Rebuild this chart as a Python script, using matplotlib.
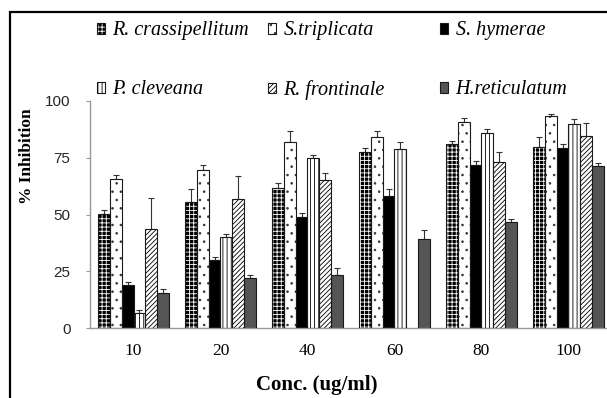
import numpy as np
import matplotlib
matplotlib.use('Agg')
import matplotlib.pyplot as plt
from matplotlib.patches import Rectangle
from matplotlib.font_manager import FontProperties

# concentrations (ug/ml) and % inhibition
conc = ['10', '20', '40', '60', '80', '100']

r_crass = [50.2, 55.4, 61.8, 77.5, 80.9, 79.7]
r_crass_err = [1.7, 6.0, 2.1, 1.7, 1.6, 4.3]
s_trip = [65.6, 69.5, 81.8, 84.0, 90.9, 93.4]
s_trip_err = [1.6, 2.2, 5.1, 2.9, 1.6, 0.9]
s_hym = [19.1, 29.8, 48.9, 58.3, 71.9, 79.3]
s_hym_err = [1.3, 1.3, 1.8, 3.1, 1.8, 1.9]
p_clev = [6.6, 40.0, 75.0, 78.8, 85.8, 89.7]
p_clev_err = [1.2, 1.6, 1.2, 3.0, 1.7, 2.4]
r_front = [43.8, 56.7, 65.2, 0.0, 73.3, 84.4]
r_front_err = [13.3, 10.1, 3.2, 0.0, 4.2, 6.0]
h_ret = [15.6, 22.0, 23.2, 39.1, 46.8, 71.2]
h_ret_err = [1.7, 1.5, 3.1, 4.2, 1.2, 1.4]

names = ['R. crassipellitum', 'S.triplicata', 'S. hymerae',
         'P. cleveana', 'R. frontinale', 'H.reticulatum']
values = [r_crass, s_trip, s_hym, p_clev, r_front, h_ret]
errors = [r_crass_err, s_trip_err, s_hym_err, p_clev_err, r_front_err, h_ret_err]

# (facecolor, hatch colour, hatch)
styles = [
    ('black', 'white', '++++'),
    ('white', '#333333', '..'),
    ('black', 'black', ''),
    ('white', 'black', '||||'),
    ('white', 'black', '///////'),
    ('#555555', '#555555', ''),
]

plt.rcParams['hatch.linewidth'] = 0.6

W, H = 607, 398
fig = plt.figure(figsize=(W / 100, H / 100), dpi=100)
ax = fig.add_axes([90 / W, 70 / H, 522 / W, 227 / H])

x = np.arange(len(conc))
width = 0.136
handles = []
for i, (vals, errs, (fc, hc, hatch)) in enumerate(zip(values, errors, styles)):
    pos = x + (i - 2.5) * width
    vals = np.array(vals)
    errs = np.array(errs)
    mask = vals > 0
    base = ax.bar(pos[mask], vals[mask], width, color=fc, edgecolor=hc,
                  hatch=hatch, linewidth=0, zorder=2)
    outline = ax.bar(pos[mask], vals[mask], width, facecolor='none',
                     edgecolor='#1a1a1a', linewidth=0.8, zorder=3)
    ax.errorbar(pos[mask], vals[mask],
                yerr=[np.zeros(mask.sum()), errs[mask]],
                fmt='none', ecolor='#333333', elinewidth=0.8,
                capsize=2, capthick=0.8, zorder=1)
    handles.append((base, outline))

ax.set_xlim(-0.5, 5.5)
ax.set_ylim(0, 100)
ax.set_yticks([0, 25, 50, 75, 100])
ax.set_xticks(x)
ax.set_xticklabels(conc, fontfamily='Liberation Serif', fontsize=12.5)
for lab in ax.get_yticklabels():
    lab.set_fontfamily('Liberation Sans')
    lab.set_fontsize(11)
    lab.set_color('#262626')
ax.tick_params(axis='x', length=0, pad=11)
ax.tick_params(axis='y', length=3, pad=11, color='#999999')

for s in ['top', 'right']:
    ax.spines[s].set_visible(False)
for s in ['left', 'bottom']:
    ax.spines[s].set_color('#999999')
    ax.spines[s].set_linewidth(1)

ax.set_xlabel('Conc. (ug/ml)', fontfamily='Liberation Serif',
              fontweight='bold', fontsize=15)
ax.xaxis.set_label_coords(227 / 522, -57 / 227)
ax.xaxis.label.set_va('center')
ax.set_ylabel('% Inhibition', fontfamily='Liberation Serif',
              fontweight='bold', fontsize=12.5)
ax.yaxis.set_label_coords(-63 / 522, 172 / 227)
ax.yaxis.label.set_va('center')

# legend: one small legend per entry so the columns sit where they should
leg_font = FontProperties(family='Liberation Serif', style='italic', size=14.5)
leg_pos = [(97, 31), (268, 31), (440, 31), (97, 90), (268, 90), (440, 90)]
for h, name, (lx, ly) in zip(handles, names, leg_pos):
    fig.legend([h], [name], loc='center left',
               bbox_to_anchor=(lx / W, 1 - ly / H), frameon=False,
               borderpad=0, borderaxespad=0, handlelength=0.42,
               handleheight=0.42, handletextpad=0.35, prop=leg_font)

# outer frame (cut off at the right and bottom)
fig.add_artist(Rectangle((10 / W, -0.1), 1.2, 1 - 12 / H + 0.1,
                         transform=fig.transFigure, fill=False,
                         edgecolor='black', linewidth=1.6))

fig.savefig('out.png', dpi=100)
